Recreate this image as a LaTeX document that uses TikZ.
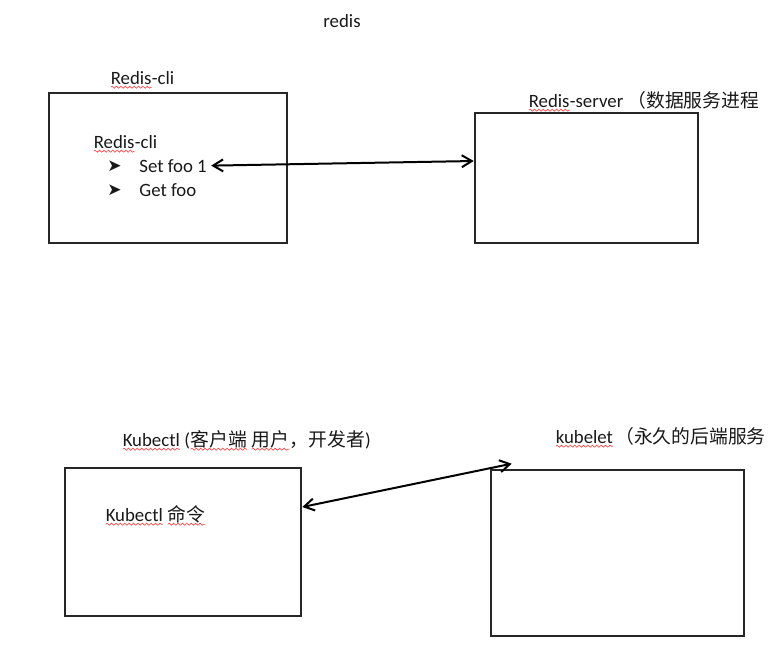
\documentclass[tikz,border=0pt]{standalone}
\usepackage{fontspec}
\setmainfont{Carlito}
\newfontfamily\cjk{Noto Sans CJK SC}
\newfontfamily\dejavu{DejaVu Sans}
\usetikzlibrary{shapes,arrows,arrows.meta,decorations.pathmorphing}
\newcommand\spellmark[1]{\tikz[baseline=(sw.base)]{\node[inner sep=0pt,outer sep=0pt] (sw) {#1};
    \draw[red!70, line width=0.35pt, decorate, decoration={snake, amplitude=0.5pt, segment length=2.2pt}]
      ([yshift=-1.6pt]sw.base west) -- ([yshift=-1.6pt]sw.base east);}}
\newcommand\bul{\makebox[16pt][l]{\raisebox{0.3pt}{\dejavu\fontsize{8.5}{9}\selectfont ➤}}}

\begin{document}
\begin{tikzpicture}[x=0.5pt, y=-0.5pt,
    block_box/.style ={rectangle, draw=black!85, line width=1.3pt, inner sep=0pt},
    block_text/.style ={anchor=base west, inner sep=2pt,
      font=\fontsize{9.4}{11}\selectfont, text=black!90},
    line/.style ={draw, line width=1pt,
      {Straight Barb[length=5pt,width=6pt]}-{Straight Barb[length=5pt,width=6pt]}}]

    \useasboundingbox (0,0) rectangle (769,660);

    % Place nodes
    \node [block_text] (title) at (319,27) {redis};

    % redis client and server
    \node [block_box, minimum width=119pt, minimum height=75pt] (redisCli) at (168,168) {};
    \node [block_text] (cliLabel) at (106,84) {\spellmark{Redis}-cli};
    \node [block_text] (cliName) at (89,148) {\spellmark{Redis}-cli};
    \node [block_text] (setCmd) at (103,172) {\bul Set foo 1};
    \node [block_text] (getCmd) at (103,196) {\bul Get foo};

    \node [block_box, minimum width=111.5pt, minimum height=65pt] (redisServer) at (586.5,178) {};
    \node [block_text] (serverLabel) at (524,107) {\spellmark{Redis}-server {\cjk （数据服务进程}};

    % kubectl and kubelet
    \node [block_box, minimum width=118pt, minimum height=74pt] (kubectlBox) at (183,542) {};
    \node [block_text] (kubectlLabel) at (118,446) {\spellmark{Kubectl} (\spellmark{\cjk 客户端} \spellmark{\cjk 用户}{\cjk ，开发者})};
    \node [block_text] (kubectlCmd) at (101,521) {\spellmark{Kubectl} \spellmark{\cjk 命令}};

    \node [block_box, minimum width=126.5pt, minimum height=83pt] (kubeletBox) at (617.5,553) {};
    \node [block_text] (kubeletLabel) at (551,443) {\spellmark{kubelet}\hspace{1pt}{\cjk （永久的后端服务}};

    % paths
    \path [line] (setCmd.east) -- ([yshift=8.5pt]redisServer.west);
    \path [line] ([yshift=17.5pt]kubectlBox.east) -- ([xshift=11pt,yshift=2.5pt]kubeletBox.north west);

\end{tikzpicture}
\end{document}
